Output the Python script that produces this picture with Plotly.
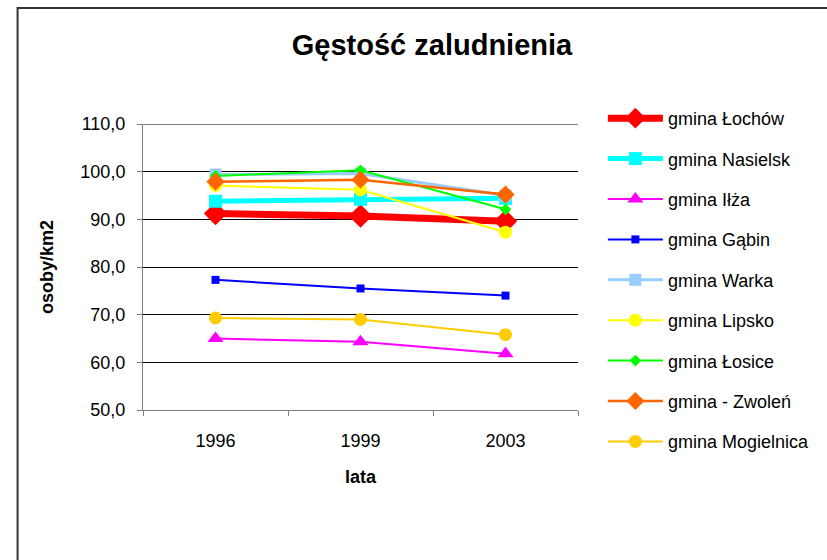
import plotly.graph_objects as go

years = ["1996", "1999", "2003"]

lochow = [91.2, 90.7, 89.6]
nasielsk = [93.8, 94.2, 94.4]
ilza = [65.0, 64.3, 61.8]
gabin = [77.3, 75.5, 74.0]
warka = [99.4, 99.6, 95.0]
lipsko = [97.1, 96.2, 87.3]
losice = [99.1, 100.3, 92.1]
zwolen = [97.9, 98.3, 95.2]
mogielnica = [69.3, 69.0, 65.8]

y_ticks = [50, 60, 70, 80, 90, 100, 110]

series = [
    ("gmina Łochów", lochow, "#FF0000", 7, "diamond", 18),
    ("gmina Nasielsk", nasielsk, "#00FFFF", 5, "square", 13),
    ("gmina Iłża", ilza, "#FF00FF", 2, "triangle-up", 14),
    ("gmina Gąbin", gabin, "#0000FF", 2, "square", 8),
    ("gmina Warka", warka, "#99CCFF", 3, "square", 12),
    ("gmina Lipsko", lipsko, "#FFFF00", 2, "circle", 13),
    ("gmina Łosice", losice, "#00FF00", 2, "diamond", 9),
    ("gmina - Zwoleń", zwolen, "#FF6600", 2.5, "diamond", 14),
    ("gmina Mogielnica", mogielnica, "#FFCC00", 2, "circle", 13),
]

fig = go.Figure()
for i, (name, vals, color, lw, sym, ms) in enumerate(series):
    fig.add_trace(go.Scatter(
        x=years, y=vals, name=name, mode="lines+markers",
        line=dict(color=color, width=lw),
        marker=dict(symbol=sym, size=ms, color=color, line=dict(width=0)),
        legendgroup=f"g{i}",
    ))

W, H = 827, 560
L, R, T, B = 143, 580, 124, 410
pw, ph = R - L, B - T

fig.update_layout(
    width=W, height=H,
    margin=dict(l=L, r=W - R, t=T, b=H - B),
    paper_bgcolor="white", plot_bgcolor="white",
    separators=", ",
    font=dict(family="Liberation Sans, Arial, sans-serif", size=18, color="black"),
    title=dict(
        text="<b>Gęstość zaludnienia</b>",
        font=dict(size=29, color="black"),
        x=432 / W, xref="container", xanchor="center",
        y=1 - 45 / H, yref="container", yanchor="middle",
    ),
    xaxis=dict(
        type="category", range=[-0.5, 2.5],
        showline=True, linecolor="#808080", linewidth=1,
        ticks="outside", tickson="boundaries", ticklen=5, tickcolor="#808080",
        ticklabelstandoff=14,
        showgrid=False, zeroline=False,
        title=dict(text="<b>lata</b>", font=dict(size=18), standoff=20),
    ),
    yaxis=dict(
        range=[50, 110], tickvals=y_ticks, tickformat=".1f",
        showline=True, linecolor="#808080", linewidth=1,
        ticks="outside", ticklen=5, tickcolor="#808080",
        ticklabelstandoff=8,
        showgrid=True, gridcolor="black", gridwidth=1, zeroline=False,
        title=dict(text="<b>osoby/km2</b>", font=dict(size=18), standoff=22),
    ),
    legend=dict(
        x=(605 - L) / pw, xanchor="left",
        y=(B - 100) / ph, yanchor="top",
        font=dict(size=18), tracegroupgap=14, itemwidth=55,
        bgcolor="rgba(0,0,0,0)", maxheight=500,
    ),
    showlegend=True,
)

# top gridline at the upper end of the value axis
fig.add_shape(
    type="line", xref="paper", yref="y",
    x0=0, x1=1, y0=y_ticks[-1], y1=y_ticks[-1],
    line=dict(color="black", width=1), layer="below",
)

# outer chart frame
fig.add_shape(
    type="rect", xref="paper", yref="paper",
    x0=(17 - L) / pw, x1=(W + 20 - L) / pw,
    y0=(B - (H + 20)) / ph, y1=(B - 8) / ph,
    line=dict(color="#333333", width=2), layer="below",
)

fig.write_html("out.html")
